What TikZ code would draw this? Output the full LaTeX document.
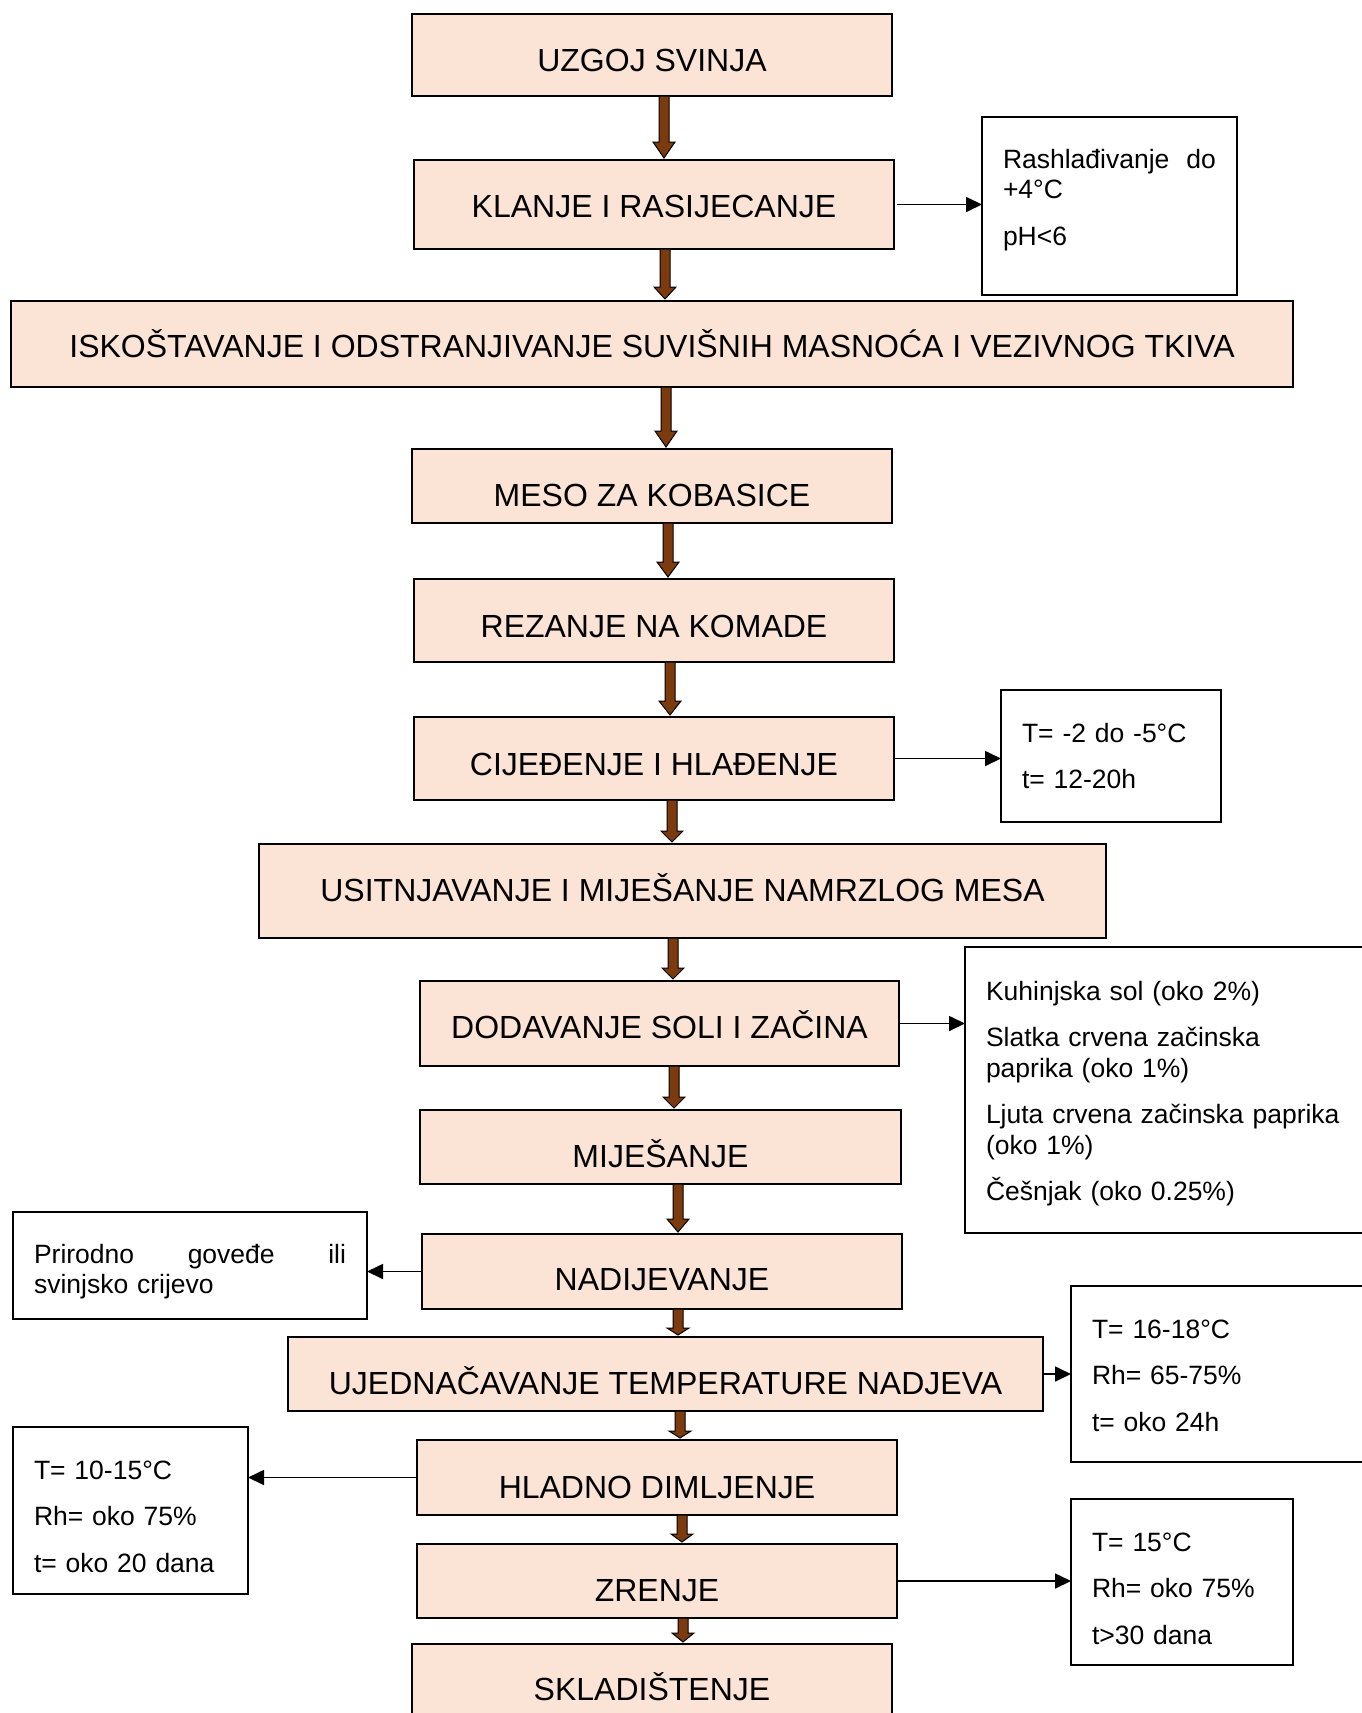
\documentclass[tikz,border=0pt]{standalone}
\usepackage{fontspec}
\setmainfont{Liberation Sans}
\usetikzlibrary{arrows.meta,calc}
\definecolor{peach}{RGB}{251,228,213}
\definecolor{arrowbrown}{RGB}{124,58,15}
\newcommand{\brownarrow}[4]{%
	\draw[draw=black, fill=arrowbrown, line width=1pt, line join=miter] let \p1=(#1.south), \p2=(#2.north) in
		(#3pt-5pt,\y1) -- (#3pt-5pt,\y2+2pt+#4pt) -- (#3pt-11pt,\y2+2pt+#4pt) -- (#3pt,\y2+2pt)
		-- (#3pt+11pt,\y2+2pt+#4pt) -- (#3pt+5pt,\y2+2pt+#4pt) -- (#3pt+5pt,\y1) -- cycle;}
\begin{document}
\begin{tikzpicture}[x=1pt, y=-1pt,
	stepbox/.style={draw=black, fill=peach, line width=1.5pt, anchor=north west, inner sep=0pt, outer sep=0pt, font=\fontsize{32}{38}\selectfont},
	notebox/.style={draw=black, fill=white, line width=1.5pt, anchor=north west, inner xsep=21pt, inner ysep=0pt, outer sep=0pt, align=left, font=\fontsize{26.5}{30.5}\selectfont},
	sidearrow/.style={draw=black, line width=1.7pt, -{Triangle[length=16pt, width=15pt]}}]
		\useasboundingbox (0,0) rectangle (1362,1713);
		\node[stepbox, minimum width=480pt, text height=57pt, text depth=25pt] (uzgoj) at (412,14) {UZGOJ SVINJA};
		\node[stepbox, minimum width=480pt, text height=57pt, text depth=32pt] (klanje) at (414,160) {KLANJE I RASIJECANJE};
		\node[stepbox, minimum width=1282pt, text height=56pt, text depth=30pt] (iskost) at (11,301) {ISKOŠTAVANJE I ODSTRANJIVANJE SUVIŠNIH MASNOĆA I VEZIVNOG TKIVA};
		\node[stepbox, minimum width=480pt, text height=57pt, text depth=17pt] (meso) at (412,449) {MESO ZA KOBASICE};
		\node[stepbox, minimum width=480pt, text height=58pt, text depth=25pt] (rezanje) at (414,579) {REZANJE NA KOMADE};
		\node[stepbox, minimum width=480pt, text height=58pt, text depth=25pt] (cijed) at (414,717) {CIJEĐENJE I HLAĐENJE};
		\node[stepbox, minimum width=847pt, text height=57pt, text depth=37pt] (usitnj) at (259,844) {USITNJAVANJE I MIJEŠANJE NAMRZLOG MESA};
		\node[stepbox, minimum width=479pt, text height=57pt, text depth=28pt] (dodav) at (420,981) {DODAVANJE SOLI I ZAČINA};
		\node[stepbox, minimum width=481pt, text height=57pt, text depth=17pt] (mijes) at (420,1110) {MIJEŠANJE};
		\node[stepbox, minimum width=480pt, text height=56pt, text depth=19pt] (nadij) at (422,1234) {NADIJEVANJE};
		\node[stepbox, minimum width=755pt, text height=57pt, text depth=17pt] (ujedn) at (288,1337) {UJEDNAČAVANJE TEMPERATURE NADJEVA};
		\node[stepbox, minimum width=480pt, text height=58pt, text depth=17pt] (hladno) at (417,1440) {HLADNO DIMLJENJE};
		\node[stepbox, minimum width=480pt, text height=57pt, text depth=17pt] (zrenje) at (417,1544) {ZRENJE};
		\node[stepbox, minimum width=480pt, text height=56pt, text depth=30pt] (sklad) at (412,1644) {SKLADIŠTENJE};
		\node[notebox, text width=213pt, text height=51pt, text depth=127pt] (rashl) at (982,117) {Rashlađivanje\hfill do\\+4°C\\[16pt]pH<6};
		\node[notebox, text width=178pt, text height=52pt, text depth=80pt] (cool) at (1001,690) {T= -2 do -5°C\\[16pt]t= 12-20h};
		\node[notebox, text width=362pt, text height=53pt, text depth=233pt] (spice) at (965,947) {Kuhinjska sol (oko 2\%)\\[16pt]Slatka crvena začinska\\paprika (oko 1\%)\\[16pt]Ljuta crvena začinska paprika\\(oko 1\%)\\[16pt]Češnjak (oko 0.25\%)};
		\node[notebox, text width=312pt, text height=51pt, text depth=56pt] (casing) at (13,1212) {Prirodno\hfill goveđe\hfill ili\\svinjsko crijevo};
		\node[notebox, text width=270pt, text height=52pt, text depth=124pt] (equal) at (1071,1286) {T= 16-18°C\\[16pt]Rh= 65-75\%\\[16pt]t= oko 24h};
		\node[notebox, text width=193pt, text height=52pt, text depth=115pt] (smoke) at (13,1427) {T= 10-15°C\\[16pt]Rh= oko 75\%\\[16pt]t= oko 20 dana};
		\node[notebox, text width=180pt, text height=52pt, text depth=114pt] (ripen) at (1071,1499) {T= 15°C\\[16pt]Rh= oko 75\%\\[16pt]t>30 dana};
		\brownarrow{uzgoj}{klanje}{664}{16}
		\brownarrow{klanje}{iskost}{665}{12}
		\brownarrow{iskost}{meso}{666}{16}
		\brownarrow{meso}{rezanje}{668}{15}
		\brownarrow{rezanje}{cijed}{670}{14}
		\brownarrow{cijed}{usitnj}{672}{11}
		\brownarrow{usitnj}{dodav}{673}{11}
		\brownarrow{dodav}{mijes}{674}{11}
		\brownarrow{mijes}{nadij}{678}{13}
		\brownarrow{nadij}{ujedn}{678}{7}
		\brownarrow{ujedn}{hladno}{680}{7}
		\brownarrow{hladno}{zrenje}{682}{8}
		\brownarrow{zrenje}{sklad}{683}{9}
		\draw[sidearrow] ([xshift=3pt]klanje.east) -- (klanje.east -| rashl.west);
		\draw[sidearrow] (cijed.east) -- (cijed.east -| cool.west);
		\draw[sidearrow] (dodav.east) -- (dodav.east -| spice.west);
		\draw[sidearrow] (nadij.west) -- (nadij.west -| casing.east);
		\draw[sidearrow] (ujedn.east) -- (ujedn.east -| equal.west);
		\draw[sidearrow] (hladno.west) -- (hladno.west -| smoke.east);
		\draw[sidearrow] (zrenje.east) -- (zrenje.east -| ripen.west);
\end{tikzpicture}
\end{document}
